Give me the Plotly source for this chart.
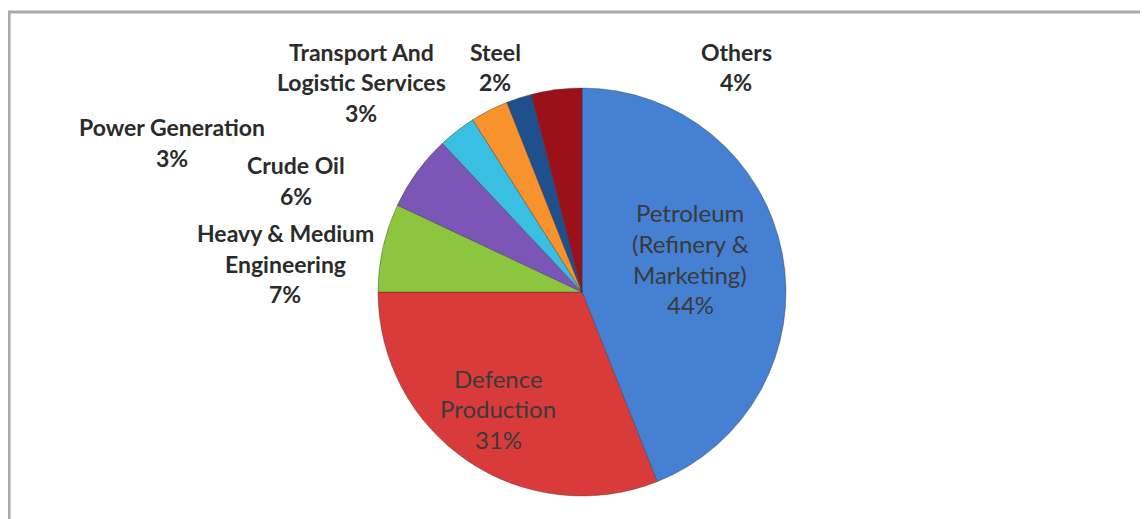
import plotly.graph_objects as go

W, H = 1148, 519          # reference picture size
OFF = 8                    # page body margin offset
FW, FH = W - OFF, H - OFF  # figure size

# ---- data ----
categories = ["Petroleum (Refinery & Marketing)", "Defence Production",
              "Heavy & Medium Engineering", "Crude Oil", "Power Generation",
              "Transport And Logistic Services", "Steel", "Others"]
label_lines = [["Petroleum", "(Refinery &", "Marketing)"],
               ["Defence", "Production"],
               ["Heavy & Medium", "Engineering"],
               ["Crude Oil"],
               ["Power Generation"],
               ["Transport And", "Logistic Services"],
               ["Steel"],
               ["Others"]]
shares = [44, 31, 7, 6, 3, 3, 2, 4]

# ---- styles ----
colors = ["#4580d2", "#d93b3b", "#8cc63e", "#7b56b6", "#38bfe2",
          "#f7922c", "#204f8e", "#9c1119"]
inside = [True, True, False, False, False, False, False, False]
# label block anchor positions in reference pixels: (center x, first line y)
label_pos = [(690, 213), (498, 378), (285, 233), (296, 165),
             (172, 127), (361, 52), (495, 52), (736, 52)]
line_step = 30.5


def px(x):
    return (x - OFF) / FW


def py(y):
    return 1 - (y - OFF) / FH


fig = go.Figure()
fig.add_trace(go.Pie(
    labels=categories,
    values=shares,
    sort=False,
    direction="clockwise",
    rotation=0,
    marker=dict(colors=colors, line=dict(color="rgba(40,40,40,0.35)", width=1)),
    textinfo="none",
    hoverinfo="label+percent",
    showlegend=False,
    domain=dict(x=[px(378), px(786)], y=[py(496), py(88)]),
))

annotations = []
for lines, v, (cx, cy), ins in zip(label_lines, shares, label_pos, inside):
    all_lines = lines + [f"{v}%"]
    for i, t in enumerate(all_lines):
        y = cy + i * line_step
        annotations.append(dict(
            x=px(cx), y=py(y), xref="paper", yref="paper",
            text=t if ins else f"<b>{t}</b>",
            showarrow=False, xanchor="center", yanchor="middle",
            font=dict(family="Lato, 'Open Sans', sans-serif",
                      size=24 if ins else 23,
                      color="#3a3a3a" if ins else "#2b2b2b"),
        ))

fig.update_layout(
    width=FW, height=FH,
    margin=dict(l=0, r=0, t=0, b=0),
    paper_bgcolor="white",
    plot_bgcolor="white",
    annotations=annotations,
    shapes=[dict(type="rect", xref="paper", yref="paper",
                 x0=px(9), x1=1.05, y0=-0.05, y1=py(12),
                 line=dict(color="#a9a9ad", width=3))],
)

fig.write_html("out.html")
